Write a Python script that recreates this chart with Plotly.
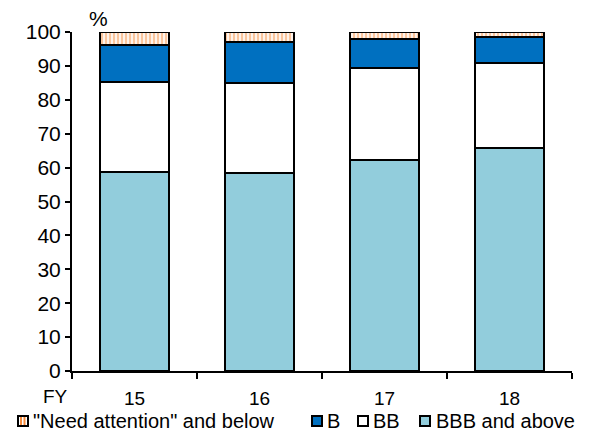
import plotly.graph_objects as go

# Fiscal years and rating composition (% of total)
years = ["15", "16", "17", "18"]
bbb_and_above = [58.6, 58.4, 62.1, 65.9]
bb = [26.6, 26.5, 27.3, 25.0]
b = [11.0, 12.1, 8.5, 7.5]
need_attention = [3.8, 3.0, 2.1, 1.6]

FONT = "Liberation Sans, Arial, sans-serif"
FS = 21
ORANGE = "#F68B3C"
W, H = 593, 436
L, R, T, B = 72, 21, 32, 65
edge = dict(color="black", width=2)

fig = go.Figure()
fig.add_bar(x=years, y=bbb_and_above, name="BBB and above",
            marker=dict(color="#92CDDC", line=edge))
fig.add_bar(x=years, y=bb, name="BB",
            marker=dict(color="white", line=edge))
fig.add_bar(x=years, y=b, name="B",
            marker=dict(color="#0070C0", line=edge))
fig.add_bar(x=years, y=need_attention, name='"Need attention" and below',
            marker=dict(color="white", line=edge,
                        pattern=dict(shape="|", fgcolor=ORANGE,
                                     bgcolor="white", size=4, solidity=0.6)))


# pixel -> paper coordinates helpers for the legend row
def px(x):
    return (x - L) / (W - L - R)


def py(y):
    return (H - B - y) / (H - T - B)


shapes = []
annotations = [
    dict(text="%", x=px(87), y=py(18), xref="paper", yref="paper",
         xanchor="left", yanchor="middle", showarrow=False,
         font=dict(size=FS)),
    dict(text="FY", x=px(70), y=py(396), xref="paper", yref="paper",
         xanchor="right", yanchor="middle", showarrow=False,
         font=dict(size=19)),
]

# legend row: (label, fill, marker left, text left)
legend_items = [
    ('"Need attention" and below', "pattern", 18, 31),
    ("B", "#0070C0", 312, 325),
    ("BB", "white", 358, 371),
    ("BBB and above", "#92CDDC", 420, 434),
]
ly, ms = 421, 10
for label, fill, mx, tx in legend_items:
    x0, x1 = mx, mx + ms
    y0, y1 = ly - ms / 2, ly + ms / 2
    shapes.append(dict(type="rect", xref="paper", yref="paper",
                       x0=px(x0), x1=px(x1), y0=py(y1), y1=py(y0),
                       fillcolor="white" if fill == "pattern" else fill,
                       line=dict(color="black", width=2), layer="above"))
    if fill == "pattern":
        for sx in (x0 + 3, x0 + 6.5):
            shapes.append(dict(type="line", xref="paper", yref="paper",
                               x0=px(sx), x1=px(sx), y0=py(y1 - 1), y1=py(y0 + 1),
                               line=dict(color=ORANGE, width=2)))
    annotations.append(dict(text=label, x=px(tx), y=py(ly), xref="paper",
                            yref="paper", xanchor="left", yanchor="middle",
                            showarrow=False, font=dict(size=20)))

fig.update_layout(
    barmode="stack",
    bargap=0.45,
    width=W, height=H,
    margin=dict(l=L, r=R, t=T, b=B, autoexpand=False),
    paper_bgcolor="white", plot_bgcolor="white",
    font=dict(family=FONT, size=FS, color="black"),
    showlegend=False,
    shapes=shapes,
    annotations=annotations,
)
fig.update_yaxes(range=[0, 100], dtick=10, showgrid=False, zeroline=False,
                 showline=True, linecolor="black", linewidth=2,
                 ticks="outside", ticklen=5, tickwidth=2, tickcolor="black")
fig.update_xaxes(type="category", showgrid=False, showline=True,
                 linecolor="black", linewidth=2, tickson="boundaries",
                 ticks="outside", ticklen=6, tickwidth=2, tickcolor="black",
                 ticklabelstandoff=9, tickfont=dict(size=19))

fig.write_html("out.html")
